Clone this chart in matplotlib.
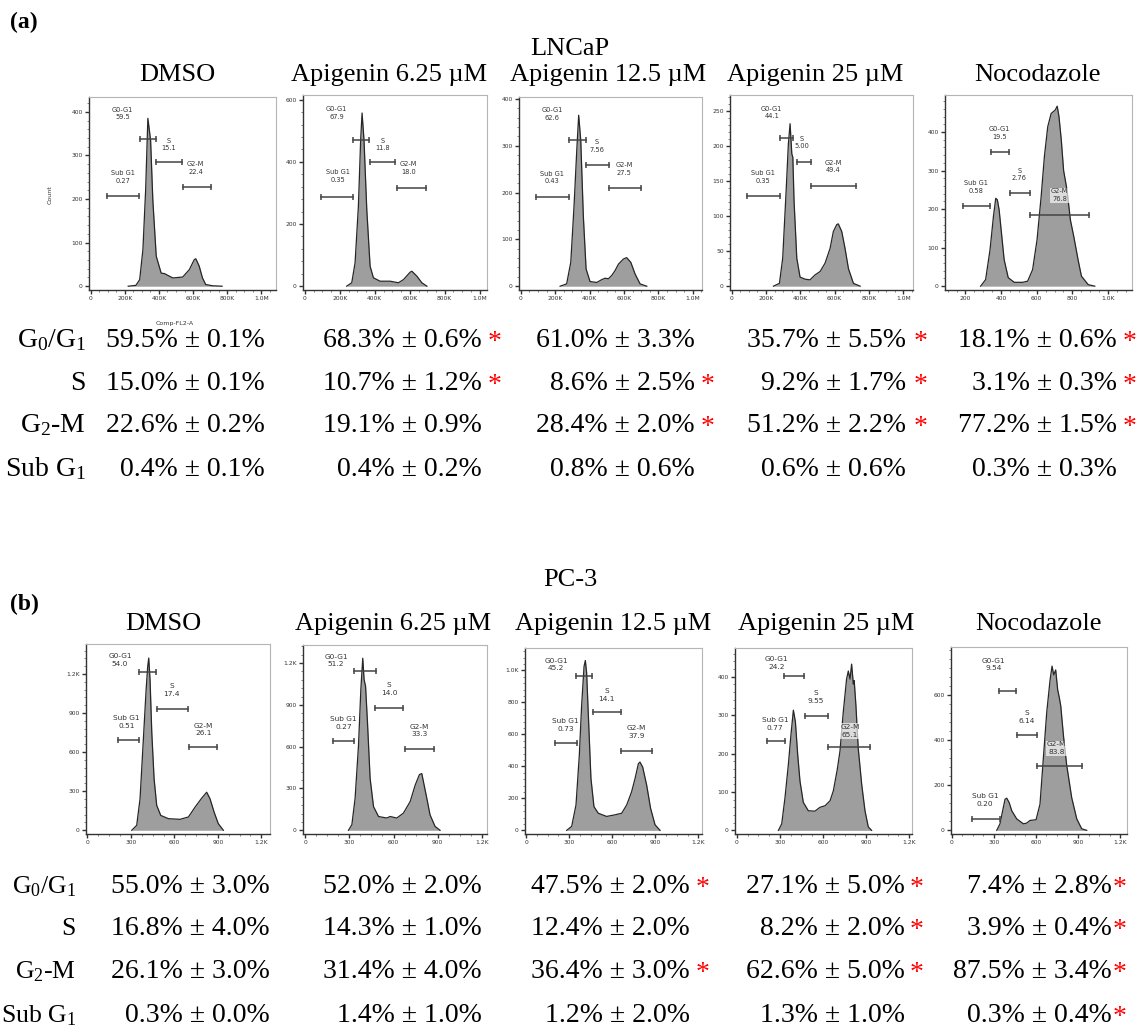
import numpy as np
import matplotlib.pyplot as plt
from matplotlib.ticker import AutoMinorLocator

plt.rcParams['mathtext.fontset'] = 'custom'
plt.rcParams['mathtext.rm'] = 'Liberation Serif'
plt.rcParams['mathtext.it'] = 'Liberation Serif:italic'
plt.rcParams['mathtext.bf'] = 'Liberation Serif:bold'

# ---------------- data ----------------
# histogram outlines (x = FL2-A, K units or channel; y = count)
lncap_dmso_x = [220, 265, 287, 306, 322, 335, 351, 364, 384, 413, 432, 481, 539, 578, 607, 616, 636, 655, 674, 713, 770]
lncap_dmso_y = [0, 2, 15, 84, 221, 385, 335, 198, 69, 30, 29, 19, 21, 38, 61, 63, 46, 19, 4, 1, 0]
lncap_a625_x = [239, 268, 287, 306, 319, 327, 338, 354, 373, 392, 430, 488, 535, 564, 602, 612, 641, 669, 698]
lncap_a625_y = [0, 11, 75, 257, 471, 557, 471, 246, 64, 27, 16, 16, 11, 21, 45, 48, 32, 11, 0]
lncap_a125_x = [229, 267, 291, 310, 326, 337, 349, 364, 380, 403, 442, 471, 490, 510, 529, 548, 568, 597, 616, 640, 665, 694, 733]
lncap_a125_y = [0, 5, 51, 171, 291, 365, 312, 150, 37, 10, 8, 14, 17, 16, 23, 33, 47, 58, 61, 51, 26, 5, 0]
lncap_a25_x = [243, 278, 297, 317, 330, 340, 350, 356, 363, 379, 398, 427, 456, 485, 515, 544, 573, 592, 612, 621, 641, 660, 680, 709, 748]
lncap_a25_y = [0, 4, 40, 136, 203, 232, 189, 184, 122, 40, 13, 10, 9, 16, 21, 33, 54, 78, 88, 89, 78, 54, 25, 4, 0]
lncap_noco_x = [285, 313, 338, 357, 370, 379, 389, 402, 417, 440, 474, 521, 549, 577, 602, 625, 643, 662, 681, 704, 715, 725, 738, 751, 770, 789, 808, 832, 851, 889, 926]
lncap_noco_y = [0, 17, 95, 181, 228, 224, 198, 138, 69, 22, 10, 10, 13, 43, 121, 233, 336, 414, 448, 457, 467, 440, 379, 300, 250, 172, 129, 69, 26, 4, 0]

pc3_dmso_x = [306, 340, 363, 386, 405, 416, 423, 432, 444, 460, 478, 506, 559, 639, 697, 743, 789, 823, 846, 874, 903, 938]
pc3_dmso_y = [0, 38, 241, 699, 1080, 1258, 1322, 1157, 750, 394, 191, 114, 89, 84, 102, 178, 247, 292, 242, 140, 51, 0]
pc3_a625_x = [294, 317, 339, 362, 378, 391, 400, 410, 423, 441, 464, 498, 554, 577, 622, 667, 713, 747, 776, 792, 808, 826, 848, 882, 916]
pc3_a625_y = [0, 40, 230, 608, 1011, 1235, 1082, 1034, 774, 372, 170, 99, 88, 99, 88, 123, 206, 324, 400, 407, 324, 230, 111, 28, 0]
pc3_a125_x = [283, 318, 348, 371, 387, 404, 413, 422, 436, 452, 473, 503, 561, 619, 666, 701, 735, 759, 782, 793, 812, 840, 867, 898, 933]
pc3_a125_y = [0, 25, 159, 468, 777, 1025, 1062, 984, 674, 324, 148, 107, 87, 97, 107, 159, 241, 324, 416, 427, 396, 282, 138, 35, 0]
pc3_a25_x = [290, 313, 336, 359, 377, 394, 408, 424, 440, 463, 498, 544, 579, 614, 649, 672, 699, 718, 741, 764, 776, 788, 799, 811, 817, 829, 845, 869, 892, 915, 938]
pc3_a25_y = [0, 17, 86, 171, 248, 313, 283, 197, 128, 73, 51, 50, 60, 64, 77, 103, 158, 206, 308, 394, 415, 394, 433, 381, 390, 325, 214, 120, 51, 9, 0]
pc3_noco_x = [321, 344, 363, 380, 392, 409, 428, 463, 511, 534, 558, 601, 629, 653, 677, 701, 715, 727, 741, 755, 767, 777, 796, 819, 855, 891, 926, 962]
pc3_noco_y = [0, 29, 87, 138, 143, 124, 87, 51, 29, 32, 44, 47, 116, 320, 524, 669, 730, 691, 713, 625, 589, 553, 422, 291, 145, 51, 7, 0]

# gates: (low, high, drawn at count) in order Sub G1, G0-G1, S, G2-M
gate_names = ['Sub G1', 'G0-G1', 'S', 'G2-M']
lncap_dmso_gates = [(93, 283, 206), (287, 380, 338), (384, 535, 284), (539, 707, 227)]
lncap_a625_gates = [(90, 277, 287), (277, 369, 471), (373, 518, 399), (526, 692, 316)]
lncap_a125_gates = [(87, 281, 191), (281, 378, 312), (380, 514, 259), (514, 700, 210)]
lncap_a25_gates = [(87, 282, 129), (282, 355, 212), (379, 460, 178), (460, 722, 143)]
lncap_noco_gates = [(185, 338, 209), (342, 442, 347), (449, 562, 241), (564, 894, 185)]
pc3_dmso_gates = [(209, 359, 694), (356, 471, 1215), (478, 697, 933), (701, 892, 636)]
pc3_a625_gates = [(188, 333, 644), (333, 482, 1141), (477, 667, 876), (679, 878, 585)]
pc3_a125_gates = [(202, 353, 546), (346, 462, 967), (469, 664, 740), (664, 875, 499)]
pc3_a25_gates = [(209, 336, 233), (331, 468, 401), (475, 632, 297), (637, 927, 216)]
pc3_noco_gates = [(143, 344, 51), (340, 458, 621), (463, 606, 422), (610, 926, 287)]

lncap_dmso_pct = [0.27, 59.5, 15.1, 22.4]
lncap_a625_pct = [0.35, 67.9, 11.8, 18.0]
lncap_a125_pct = [0.43, 62.6, 7.56, 27.5]
lncap_a25_pct = [0.35, 44.1, 5.00, 49.4]
lncap_noco_pct = [0.58, 19.5, 2.76, 76.8]
pc3_dmso_pct = [0.51, 54.0, 17.4, 26.1]
pc3_a625_pct = [0.27, 51.2, 14.0, 33.3]
pc3_a125_pct = [0.73, 45.2, 14.1, 37.9]
pc3_a25_pct = [0.77, 24.2, 9.55, 65.1]
pc3_noco_pct = [0.20, 9.54, 6.14, 83.8]

treatments = ['DMSO', 'Apigenin 6.25 \u00b5M', 'Apigenin 12.5 \u00b5M', 'Apigenin 25 \u00b5M', 'Nocodazole']
phase_rows = [r'G$_\mathregular{0}$/G$_\mathregular{1}$', 'S', r'G$_\mathregular{2}$-M', r'Sub G$_\mathregular{1}$']

lncap_mean = [[59.5, 68.3, 61.0, 35.7, 18.1],
              [15.0, 10.7, 8.6, 9.2, 3.1],
              [22.6, 19.1, 28.4, 51.2, 77.2],
              [0.4, 0.4, 0.8, 0.6, 0.3]]
lncap_sd = [[0.1, 0.6, 3.3, 5.5, 0.6],
            [0.1, 1.2, 2.5, 1.7, 0.3],
            [0.2, 0.9, 2.0, 2.2, 1.5],
            [0.1, 0.2, 0.6, 0.6, 0.3]]
lncap_sig = [[0, 1, 0, 1, 1],
             [0, 1, 1, 1, 1],
             [0, 0, 1, 1, 1],
             [0, 0, 0, 0, 0]]
pc3_mean = [[55.0, 52.0, 47.5, 27.1, 7.4],
            [16.8, 14.3, 12.4, 8.2, 3.9],
            [26.1, 31.4, 36.4, 62.6, 87.5],
            [0.3, 1.4, 1.2, 1.3, 0.3]]
pc3_sd = [[3.0, 2.0, 2.0, 5.0, 2.8],
          [4.0, 1.0, 2.0, 2.0, 0.4],
          [3.0, 4.0, 3.0, 5.0, 3.4],
          [0.0, 1.0, 2.0, 1.0, 0.4]]
pc3_sig = [[0, 0, 1, 1, 1],
           [0, 0, 0, 1, 1],
           [0, 0, 1, 1, 1],
           [0, 0, 0, 0, 1]]

# ---------------- layout (pixels) ----------------
W, H = 1140, 1030
fig = plt.figure(figsize=(W / 100, H / 100), dpi=100)
fig.patch.set_facecolor('white')

def fx(x):
    return x / W

def fy(y):
    return 1 - y / H

serif = 'Liberation Serif'
sans = 'DejaVu Sans'

top_rects = [(89, 97, 276, 290), (303, 95, 487, 290), (519, 97, 702, 290), (730, 95, 913, 290), (945, 95, 1132, 290)]
bot_rects = [(86, 644, 270, 834), (303, 645, 487, 834), (525, 648, 702, 834), (735, 648, 912, 834), (951, 647, 1127, 834)]
top_xlims = [(-10, 1086), (-11, 1042), (-10, 1054), (-10, 1056), (85, 1135)]
bot_xlims = [(-10, 1260), (-15, 1235), (-7, 1225), (-12, 1219), (-5, 1249)]
top_ytop = [434, 615, 404, 273, 496]
bot_ytop = [1430, 1330, 1140, 475, 815]
top_yticks = [[0, 100, 200, 300, 400], [0, 200, 400, 600], [0, 100, 200, 300, 400],
              [0, 50, 100, 150, 200, 250], [0, 100, 200, 300, 400]]
bot_yticks = [[0, 300, 600, 900, 1200], [0, 300, 600, 900, 1200], [0, 200, 400, 600, 800, 1000],
              [0, 100, 200, 300, 400], [0, 200, 400, 600]]
# label centres (data coords) for Sub G1, G0-G1, S, G2-M
top_label_pos = [[(190, 251), (186, 396), (457, 325), (616, 272)],
                 [(191, 354), (182, 557), (445, 456), (593, 380)],
                 [(184, 232), (184, 367), (442, 300), (603, 250)],
                 [(184, 156), (233, 248), (410, 205), (592, 171)],
                 [(260, 257), (389, 397), (502, 290), (728, 236)]]
bot_label_pos = [[(269, 831), (225, 1309), (581, 1075), (800, 773)],
                 [(260, 769), (210, 1219), (570, 1015), (774, 717)],
                 [(276, 658), (209, 1037), (561, 845), (770, 616)],
                 [(266, 278), (278, 435), (551, 347), (788, 259)],
                 [(238, 134), (297, 737), (534, 503), (748, 365)]]


def tick_label(v, big):
    if v == 0:
        return '0'
    if big:
        return '1.0M' if v >= 1000 else '%dK' % v
    if v >= 1000:
        return '%.1fK' % (v / 1000)
    return '%d' % v


def pct_label(v):
    return '%.1f' % v if v >= 10 else '%.2f' % v


def draw_hist(rect, xs, ys, gates, pcts, label_pos, xlim, ytop, xticks, big, yticks, fsize):
    x0, y0, x1, y1 = rect
    ax = fig.add_axes([fx(x0), fy(y1), fx(x1 - x0), (y1 - y0) / H])
    ax.fill_between(xs, ys, 0, color='#9e9e9e', lw=0)
    ax.plot(xs, ys, color='#262626', lw=0.9)
    ax.set_xlim(*xlim)
    ax.set_ylim(-0.02 * ytop, ytop)
    ax.set_xticks(xticks)
    ax.set_xticklabels([tick_label(v, big) for v in xticks])
    ax.set_yticks(yticks)
    ax.set_yticklabels([tick_label(v, False) for v in yticks])
    ax.xaxis.set_minor_locator(AutoMinorLocator(4))
    ax.yaxis.set_minor_locator(AutoMinorLocator(5))
    ax.tick_params(which='major', direction='out', length=3, width=1.0, color='#333333',
                   labelsize=4.3, labelcolor='#333333', pad=1.5)
    ax.tick_params(which='minor', direction='out', length=1.5, width=0.5, color='#555555')
    for s in ['top', 'right']:
        ax.spines[s].set_color('#b5b5b5')
        ax.spines[s].set_linewidth(0.8)
    for s in ['left', 'bottom']:
        ax.spines[s].set_color('#333333')
        ax.spines[s].set_linewidth(1.0)
    for name, (lo, hi, gy), p, (lx, ly) in zip(gate_names, gates, pcts, label_pos):
        ax.plot([lo, hi], [gy, gy], color='#444444', lw=1.1, marker='|', markersize=5, mew=1.1)
        over = np.interp(lx, xs, ys) > ly - 0.05 * ytop
        box = dict(facecolor='white', alpha=0.65, edgecolor='none', pad=0.6) if over else None
        ax.text(lx, ly, name + '\n' + pct_label(p), ha='center', va='center', fontsize=fsize,
                family=sans, color='#333333', linespacing=1.35, bbox=box)
    return ax


top_data = [(lncap_dmso_x, lncap_dmso_y, lncap_dmso_gates, lncap_dmso_pct),
            (lncap_a625_x, lncap_a625_y, lncap_a625_gates, lncap_a625_pct),
            (lncap_a125_x, lncap_a125_y, lncap_a125_gates, lncap_a125_pct),
            (lncap_a25_x, lncap_a25_y, lncap_a25_gates, lncap_a25_pct),
            (lncap_noco_x, lncap_noco_y, lncap_noco_gates, lncap_noco_pct)]
bot_data = [(pc3_dmso_x, pc3_dmso_y, pc3_dmso_gates, pc3_dmso_pct),
            (pc3_a625_x, pc3_a625_y, pc3_a625_gates, pc3_a625_pct),
            (pc3_a125_x, pc3_a125_y, pc3_a125_gates, pc3_a125_pct),
            (pc3_a25_x, pc3_a25_y, pc3_a25_gates, pc3_a25_pct),
            (pc3_noco_x, pc3_noco_y, pc3_noco_gates, pc3_noco_pct)]

for i, (xs, ys, g, p) in enumerate(top_data):
    if i < 4:
        xt, big = [0, 200, 400, 600, 800, 1000], True
    else:
        xt, big = [200, 400, 600, 800, 1000], False
    draw_hist(top_rects[i], xs, ys, g, p, top_label_pos[i], top_xlims[i], top_ytop[i],
              xt, big, top_yticks[i], 4.8)

for i, (xs, ys, g, p) in enumerate(bot_data):
    draw_hist(bot_rects[i], xs, ys, g, p, bot_label_pos[i], bot_xlims[i], bot_ytop[i],
              [0, 300, 600, 900, 1200], False, bot_yticks[i], 5.3)

# axis captions of the first panel
fig.text(fx(50), fy(195), 'Count', rotation=90, ha='center', va='center', fontsize=4.5, family=sans, color='#333333')
fig.text(fx(175), fy(323), 'Comp-FL2-A', ha='center', va='center', fontsize=4.5, family=sans, color='#333333')

# headings
fig.text(fx(10), fy(28), '(a)', fontsize=17, fontweight='bold', family=serif, va='baseline')
fig.text(fx(10), fy(610), '(b)', fontsize=17, fontweight='bold', family=serif, va='baseline')
fig.text(fx(570), fy(55), 'LNCaP', fontsize=19, family=serif, ha='center', va='baseline')
fig.text(fx(570), fy(586), 'PC-3', fontsize=19, family=serif, ha='center', va='baseline')
top_title_x = [177, 389, 608, 815, 1037]
bot_title_x = [163, 393, 613, 826, 1038]
for t, xa, xb in zip(treatments, top_title_x, bot_title_x):
    fig.text(fx(xa), fy(81), t, fontsize=19, family=serif, ha='center', va='baseline')
    fig.text(fx(xb), fy(630), t, fontsize=19, family=serif, ha='center', va='baseline')

# summary tables
def draw_table(mean, sd, sig, base_y, label_x, label_size, col_x, star_dx, fsize):
    for r, by in enumerate(base_y):
        fig.text(fx(label_x), fy(by), phase_rows[r], fontsize=label_size, family=serif, ha='right', va='baseline')
        for c, cx in enumerate(col_x):
            fig.text(fx(cx), fy(by), '%.1f%% \u00b1 %.1f%%' % (mean[r][c], sd[r][c]),
                     fontsize=fsize, family=serif, ha='right', va='baseline')
            if sig[r][c]:
                fig.text(fx(cx + star_dx[c]), fy(by + 2), '*', fontsize=fsize, family=serif,
                         color='#ff0000', ha='center', va='baseline')

draw_table(lncap_mean, lncap_sd, lncap_sig, [347, 390, 432, 476], 86, 20,
           [265, 482, 695, 906, 1117], [13, 13, 13, 15, 13], 20)
draw_table(pc3_mean, pc3_sd, pc3_sig, [893, 935, 978, 1022], 76, 18.5,
           [270, 482, 690, 905, 1112], [13, 13, 13, 12, 8], 20)

fig.savefig('out.png', dpi=100, facecolor='white')
